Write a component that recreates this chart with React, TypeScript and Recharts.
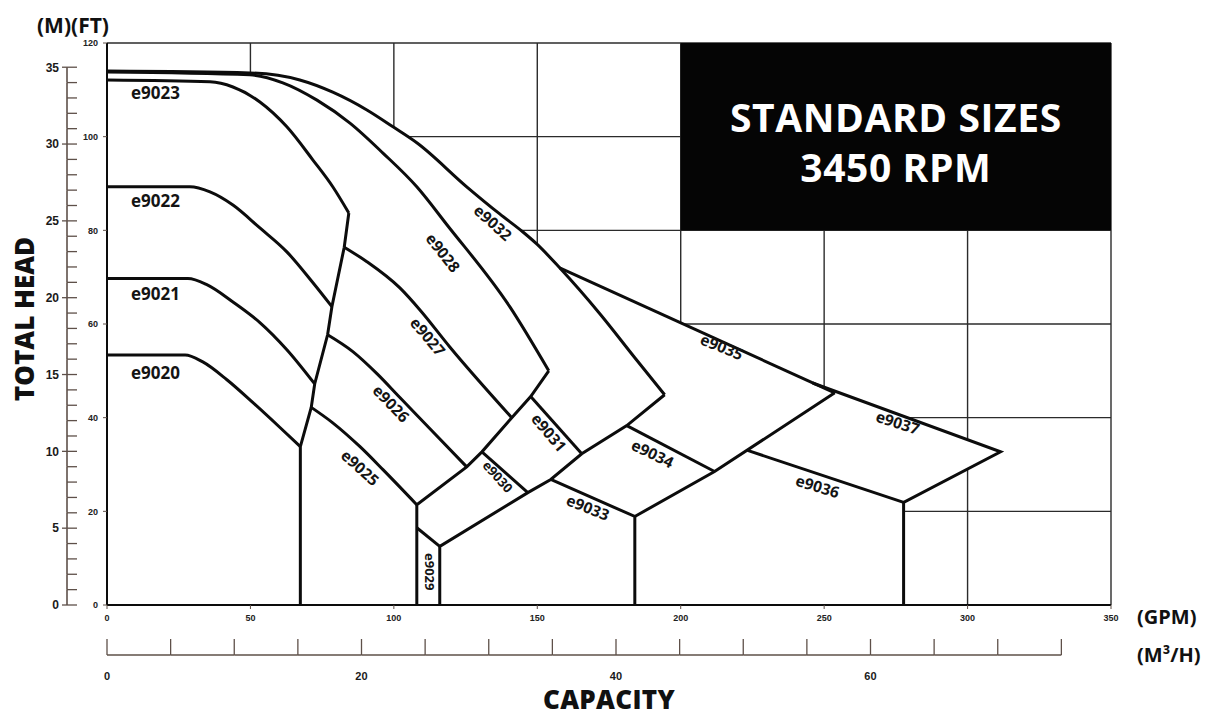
import React from 'react';
import {
  ComposedChart,
  Line,
  Area,
  XAxis,
  YAxis,
  CartesianGrid,
  ReferenceArea,
  Scatter,
  Label,
} from 'recharts';

// ---------- axis ticks ----------
const GPM_TICKS = [0, 50, 100, 150, 200, 250, 300, 350];
const FT_TICKS = [0, 20, 40, 60, 80, 100, 120];
const M_TICKS = [0, 1, 2, 3, 4, 5, 6, 7, 8, 9, 10, 11, 12, 13, 14, 15, 16, 17, 18, 19, 20, 21, 22, 23, 24, 25, 26, 27, 28, 29, 30, 31, 32, 33, 34, 35];
const M3_TICKS = [0, 5, 10, 15, 20, 25, 30, 35, 40, 45, 50, 55, 60, 65, 70, 75];
const M3_LABELS = [0, 20, 40, 60];

// ---------- pump curves [GPM, FT] ----------
const E9032 = [[0, 114.0], [49.8, 113.6], [67.2, 112.1], [78.7, 109.5], [90.6, 105.7], [99.7, 102.1], [108.0, 98.7], [125.4, 89.3], [136.9, 83.5], [144.9, 79.7], [149.8, 77.1], [157.8, 72.0], [171.8, 62.2], [184.0, 52.8], [194.4, 44.9]];
const E9028 = [[0, 113.8], [49.8, 113.2], [61.3, 111.5], [73.2, 107.8], [84.7, 102.9], [96.2, 96.5], [108.0, 89.3], [118.5, 81.2], [140.4, 63.7], [154.0, 50.0]];
const E9023 = [[0, 112.1], [35.9, 111.7], [43.9, 110.6], [53.3, 107.4], [62.7, 102.1], [71.8, 95.0], [78.7, 89.3], [84.3, 83.7]];
const E9022 = [[0, 89.3], [28.9, 89.3], [35.9, 88.2], [43.9, 85.4], [53.3, 80.5], [62.7, 75.4], [71.8, 68.8], [78.4, 63.7]];
const E9021 = [[0, 69.7], [28.2, 69.7], [34.8, 68.4], [43.9, 64.7], [53.3, 60.3], [62.7, 54.5], [72.4, 47.2]];
const E9020 = [[0, 53.4], [27.2, 53.4], [33.4, 51.9], [41.8, 48.1], [50.9, 43.2], [60.3, 37.9], [67.4, 33.8]];
const E9027 = [[82.7, 76.4], [90.6, 73.3], [102.1, 67.7], [109.1, 63.0], [119.5, 55.1], [141.1, 40.0]];
const E9026 = [[76.9, 57.7], [85.7, 54.1], [94.1, 49.4], [102.1, 44.3], [112.5, 37.7], [125.4, 29.5]];
const E9025 = [[71.2, 42.2], [78.7, 38.9], [88.2, 33.8], [96.2, 28.9], [108.0, 21.4]];

// ---------- straight limits / boundaries [GPM, FT] ----------
const LIMIT_A = [[84.3, 83.7], [82.7, 76.4], [78.4, 63.7], [76.9, 57.7], [72.4, 47.2], [71.2, 42.2], [67.4, 33.8], [67.4, 0]];
const LIMIT_B = [[154.0, 50.0], [147.7, 44.5], [141.1, 40.0], [130.7, 32.7], [125.4, 29.5], [108.0, 21.4], [108.0, 0]];
const LIMIT_C = [[194.4, 44.9], [181.2, 38.3], [165.5, 32.3], [154.7, 26.8], [146.7, 24.0], [116.0, 12.5], [116.0, 0]];
const LIMIT_D = [[184.0, 18.9], [211.8, 28.5], [253.7, 45.3]];
const E9031 = [[147.7, 44.5], [165.5, 32.3]];
const E9030 = [[130.7, 32.7], [146.7, 24.0]];
const E9029 = [[108.0, 16.5], [116.0, 12.5]];
const E9033 = [[154.7, 26.8], [184.0, 18.9], [184.0, 0]];
const E9034 = [[181.2, 38.3], [211.8, 28.5]];
const E9035 = [[157.8, 72.0], [253.7, 45.3]];
const E9037 = [[246.0, 47.4], [311.5, 32.7], [277.7, 21.9], [277.7, 0]];
const E9036 = [[223.3, 33.0], [277.7, 21.9]];

// ---------- model labels [name, GPM, FT] ----------
const MODEL_LABELS: [string, number, number][] = [
  ['e9023', 16.9, 109.3],
  ['e9022', 16.9, 86.3],
  ['e9021', 16.9, 66.5],
  ['e9020', 16.9, 49.6],
  ['e9032', 134.5, 81.6],
  ['e9028', 117.1, 75.2],
  ['e9027', 111.8, 57.3],
  ['e9026', 99.0, 43.0],
  ['e9025', 88.2, 29.3],
  ['e9031', 154.0, 36.8],
  ['e9030', 136.2, 27.4],
  ['e9029', 112.5, 7.1],
  ['e9033', 167.6, 20.8],
  ['e9034', 190.2, 32.3],
  ['e9035', 214.3, 55.1],
  ['e9037', 275.6, 38.9],
  ['e9036', 247.7, 25.3],
];

// ---------- styling ----------
const LABEL_ANGLE: Record<string, number> = {
  e9032: 42, e9028: 52, e9027: 50, e9026: 46, e9025: 42, e9031: 50, e9030: 48,
  e9029: 90, e9033: 22, e9034: 26, e9035: 22, e9037: 18, e9036: 17,
};
const SMALL_LABELS = ['e9030', 'e9029'];

const W = 1217;
const H = 717;
const MARGIN = { top: 43, right: 106, bottom: 22, left: 0 };
const FT_AXIS_W = 40;
const M_AXIS_W = 67;
const GPM_AXIS_H = 50;
const M3_AXIS_H = 40;
const PLOT_W = W - MARGIN.left - MARGIN.right - FT_AXIS_W - M_AXIS_W;
const PLOT_H = H - MARGIN.top - MARGIN.bottom - GPM_AXIS_H - M3_AXIS_H;
const FT_MAX = 120;
const GPM_MAX = 350;
const M_MAX = FT_MAX * 0.3048;
const M3_MAX = 78.9;

const INK = '#0c0c0c';
const AX = '#5e5049';
const GRID = '#2b2b2b';
const BOLD = '"Open Sans", "DejaVu Sans", sans-serif';
const NARROW = '"Liberation Sans Narrow", "Liberation Sans", Arial, sans-serif';

const toPts = (a: number[][]) => a.map(([x, y]) => ({ x, y }));

const interp = (a: number[][], x: number) => {
  const [[x0, y0], [x1, y1]] = a;
  return y0 + ((x - x0) / (x1 - x0)) * (y1 - y0);
};

// white envelope that hides the grid under the selection areas
const ENV_CURVE = toPts(E9032);
const ENV_TAIL = (() => {
  const xs = E9037[2][0];
  const top = interp(E9037, xs);
  return [
    { x: E9035[0][0], band: [0, E9035[0][1]] },
    { x: E9037[0][0], band: [0, E9037[0][1]] },
    { x: xs, band: [0, top] },
    { x: xs, band: [E9037[2][1], top] },
    { x: E9037[1][0], band: [E9037[1][1], E9037[1][1]] },
  ];
})();

const CURVES = [E9032, E9028, E9023, E9022, E9021, E9020, E9027, E9026, E9025];
const SEGMENTS = [LIMIT_A, LIMIT_B, LIMIT_C, LIMIT_D, E9031, E9030, E9029, E9033, E9034, E9035, E9037, E9036];
const LABEL_DATA = MODEL_LABELS.map(([name, x, y]) => ({ name, x, y }));

const MTick = (props: any) => {
  const { x, y, payload } = props;
  const v = payload.value as number;
  const step = PLOT_H / M_MAX;
  const major = v % 5 === 0;
  return (
    <g>
      {v < 35 && <line x1={x} x2={x} y1={y} y2={y - step} stroke={AX} strokeWidth={1.6} />}
      <line x1={major ? x - 5 : x} x2={x + 10} y1={y} y2={y} stroke={AX} strokeWidth={1.3} />
      {major && (
        <text x={x - 8} y={y} dy="0.36em" textAnchor="end" fontFamily={NARROW} fontWeight={700} fontSize={12} fill="#1a1a1a">
          {v}
        </text>
      )}
    </g>
  );
};

const M3Tick = (props: any) => {
  const { x, y, payload } = props;
  const v = payload.value as number;
  const step = (PLOT_W / M3_MAX) * 5;
  return (
    <g>
      {v < 75 && <line x1={x} x2={x + step} y1={y} y2={y} stroke={AX} strokeWidth={1.6} />}
      <line x1={x} x2={x} y1={y} y2={y - 16} stroke={AX} strokeWidth={1.3} />
      {M3_LABELS.includes(v) && (
        <text x={x} y={y + 25} textAnchor="middle" fontFamily={NARROW} fontWeight={700} fontSize={11} fill="#1a1a1a">
          {v}
        </text>
      )}
    </g>
  );
};

const PumpLabel = (props: any) => {
  const { cx, cy, payload } = props;
  const name = payload.name as string;
  const angle = LABEL_ANGLE[name] || 0;
  const size = SMALL_LABELS.includes(name) ? 13 : angle ? 15.5 : 17;
  return (
    <text
      x={cx}
      y={cy}
      dy="0.36em"
      textAnchor="middle"
      transform={`rotate(${angle}, ${cx}, ${cy})`}
      fontFamily={BOLD}
      fontWeight={700}
      fontSize={size}
      fill="#141414"
    >
      {name}
    </text>
  );
};

export default function App() {
  return (
    <div style={{ position: 'absolute', left: 0, top: 0, background: '#fff' }}>
      <ComposedChart width={W} height={H} margin={MARGIN}>
        <CartesianGrid xAxisId="gpm" yAxisId="ft" stroke={GRID} strokeWidth={1.4} />
        <ReferenceArea
          xAxisId="gpm"
          yAxisId="ft"
          x1={200}
          x2={GPM_MAX}
          y1={80}
          y2={FT_MAX}
          fill="#050505"
          fillOpacity={1}
          stroke="none"
          label={(p: any) => {
            const vb = p.viewBox;
            const cx = vb.x + vb.width / 2;
            return (
              <g>
                <text x={cx} y={vb.y + 89} textAnchor="middle" fontFamily={BOLD} fontWeight={700} fontSize={39} letterSpacing={0.6} fill="#fff">
                  STANDARD SIZES
                </text>
                <text x={cx} y={vb.y + 139} textAnchor="middle" fontFamily={BOLD} fontWeight={700} fontSize={39} letterSpacing={0.6} fill="#fff">
                  3450 RPM
                </text>
              </g>
            );
          }}
        />
        <Area
          xAxisId="gpm"
          yAxisId="ft"
          data={ENV_CURVE}
          dataKey="y"
          type="monotone"
          fill="#fff"
          fillOpacity={1}
          stroke="none"
          isAnimationActive={false}
        />
        <Area
          xAxisId="gpm"
          yAxisId="ft"
          data={ENV_TAIL}
          dataKey="band"
          type="linear"
          fill="#fff"
          fillOpacity={1}
          stroke="none"
          isAnimationActive={false}
        />
        {CURVES.map((c, i) => (
          <Line
            key={`c${i}`}
            xAxisId="gpm"
            yAxisId="ft"
            data={toPts(c)}
            dataKey="y"
            type="monotone"
            stroke={INK}
            strokeWidth={3}
            dot={false}
            activeDot={false}
            isAnimationActive={false}
          />
        ))}
        {SEGMENTS.map((s, i) => (
          <Line
            key={`s${i}`}
            xAxisId="gpm"
            yAxisId="ft"
            data={toPts(s)}
            dataKey="y"
            type="linear"
            stroke={INK}
            strokeWidth={3}
            strokeLinejoin="miter"
            dot={false}
            activeDot={false}
            isAnimationActive={false}
          />
        ))}
        <Scatter
          xAxisId="gpm"
          yAxisId="ft"
          data={LABEL_DATA}
          dataKey="y"
          isAnimationActive={false}
          shape={(p: any) => <PumpLabel {...p} />}
        />
        <XAxis
          xAxisId="gpm"
          dataKey="x"
          type="number"
          domain={[0, GPM_MAX]}
          ticks={GPM_TICKS}
          interval={0}
          allowDataOverflow
          height={GPM_AXIS_H}
          tickSize={4}
          tickMargin={6}
          axisLine={{ stroke: INK, strokeWidth: 2 }}
          tickLine={{ stroke: AX }}
          tick={{ fontSize: 9, fontWeight: 700, fill: '#222', fontFamily: NARROW }}
        >
          <Label
            content={(p: any) => {
              const vb = p.viewBox;
              return (
                <text x={vb.x + vb.width + 26} y={vb.y + 12} dy="0.36em" fontFamily={BOLD} fontWeight={700} fontSize={20} fill="#111">
                  (GPM)
                </text>
              );
            }}
          />
        </XAxis>
        <XAxis
          xAxisId="m3"
          dataKey="x"
          type="number"
          scale="linear"
          domain={[0, M3_MAX]}
          ticks={M3_TICKS}
          interval={0}
          allowDataOverflow
          height={M3_AXIS_H}
          tickSize={0}
          tickMargin={0}
          axisLine={false}
          tickLine={false}
          tick={(p: any) => <M3Tick {...p} />}
        >
          <Label
            content={(p: any) => {
              const vb = p.viewBox;
              return (
                <g>
                  <text x={vb.x + vb.width + 26} y={vb.y} dy="0.36em" fontFamily={BOLD} fontWeight={700} fontSize={20} fill="#111">
                    (M³/H)
                  </text>
                  <text x={vb.x + vb.width / 2} y={vb.y + 54} textAnchor="middle" fontFamily={BOLD} fontWeight={800} fontSize={26} letterSpacing={0.3} fill="#111">
                    CAPACITY
                  </text>
                </g>
              );
            }}
          />
        </XAxis>
        <YAxis
          yAxisId="ft"
          type="number"
          domain={[0, FT_MAX]}
          ticks={FT_TICKS}
          interval={0}
          allowDataOverflow
          width={FT_AXIS_W}
          tickSize={4}
          tickMargin={5}
          axisLine={{ stroke: INK, strokeWidth: 2 }}
          tickLine={{ stroke: AX }}
          tick={{ fontSize: 9, fontWeight: 700, fill: '#222', fontFamily: NARROW }}
        >
          <Label
            content={(p: any) => {
              const vb = p.viewBox;
              return (
                <text x={vb.x - 30} y={vb.y - 10} fontFamily={BOLD} fontWeight={700} fontSize={21} fill="#111">
                  (M)(FT)
                </text>
              );
            }}
          />
        </YAxis>
        <YAxis
          yAxisId="m"
          type="number"
          domain={[0, M_MAX]}
          ticks={M_TICKS}
          interval={0}
          allowDataOverflow
          width={M_AXIS_W}
          tickSize={0}
          tickMargin={0}
          axisLine={false}
          tickLine={false}
          tick={<MTick />}
        >
          <Label
            content={(p: any) => {
              const vb = p.viewBox;
              const cx = vb.x + 25;
              const cy = vb.y + vb.height / 2 - 5;
              return (
                <text x={cx} y={cy} dy="0.36em" textAnchor="middle" transform={`rotate(-90, ${cx}, ${cy})`} fontFamily={BOLD} fontWeight={800} fontSize={26} fill="#111">
                  TOTAL HEAD
                </text>
              );
            }}
          />
        </YAxis>
      </ComposedChart>
    </div>
  );
}
